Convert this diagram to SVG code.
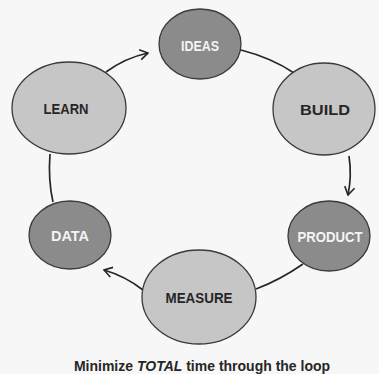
<svg xmlns="http://www.w3.org/2000/svg" width="379" height="374" viewBox="0 0 379 374">
<defs>
<style>
.dark{fill:#8b8b8b;stroke:#3a3a3a;stroke-width:1.3}
.light{fill:#c6c6c6;stroke:#3a3a3a;stroke-width:1.3}
.lbl{font-family:"Liberation Sans",Arial,sans-serif;font-weight:bold;font-size:15.5px;text-anchor:middle;dominant-baseline:central}
.w{fill:#f4f4f4}
.b{fill:#262626}
.con{fill:none;stroke:#262626;stroke-width:1.7}
.cap{font-family:"Liberation Sans",Arial,sans-serif;font-weight:bold;font-size:14px;fill:#262626;text-anchor:middle}
</style>
<marker id="arr" viewBox="0 0 10 12" refX="9" refY="6" markerWidth="10" markerHeight="12" markerUnits="userSpaceOnUse" orient="auto">
<path d="M1,1 L9,6 L1,11" fill="none" stroke="#262626" stroke-width="1.6"/>
</marker>
</defs>
<rect width="379" height="374" fill="#f7f7f7"/>
<g id="connectors">
<path class="con" d="M106,72 Q125,58 148,53" marker-end="url(#arr)"/>
<path class="con" d="M241,50 Q272,58 294,73"/>
<path class="con" d="M349,156 Q352,176 348,195" marker-end="url(#arr)"/>
<path class="con" d="M303,264 Q280,280 256,289"/>
<path class="con" d="M143,290 Q125,276 104,270" marker-end="url(#arr)"/>
<path class="con" d="M50,154 Q48,180 53,202"/>
</g>
<g id="ideas"><ellipse class="dark" cx="200" cy="44" rx="41" ry="35"/><text class="lbl w" x="200" y="45" textLength="38" lengthAdjust="spacingAndGlyphs">IDEAS</text></g>
<g id="build"><ellipse class="light" cx="324" cy="109" rx="51" ry="46"/><text class="lbl b" x="325" y="109" textLength="50" lengthAdjust="spacingAndGlyphs">BUILD</text></g>
<g id="product"><ellipse class="dark" cx="329" cy="236" rx="41" ry="35"/><text class="lbl w" x="330" y="236" textLength="65" lengthAdjust="spacingAndGlyphs">PRODUCT</text></g>
<g id="measure"><ellipse class="light" cx="199" cy="297" rx="57" ry="47"/><text class="lbl b" x="199" y="297" textLength="67" lengthAdjust="spacingAndGlyphs">MEASURE</text></g>
<g id="data"><ellipse class="dark" cx="70" cy="235" rx="41" ry="34"/><text class="lbl w" x="70" y="235" textLength="38" lengthAdjust="spacingAndGlyphs">DATA</text></g>
<g id="learn"><ellipse class="light" cx="69" cy="108" rx="57" ry="46"/><text class="lbl b" x="66" y="108" textLength="45" lengthAdjust="spacingAndGlyphs">LEARN</text></g>
<text class="cap" x="202" y="371">Minimize <tspan font-style="italic">TOTAL</tspan> time through the loop</text>
</svg>
